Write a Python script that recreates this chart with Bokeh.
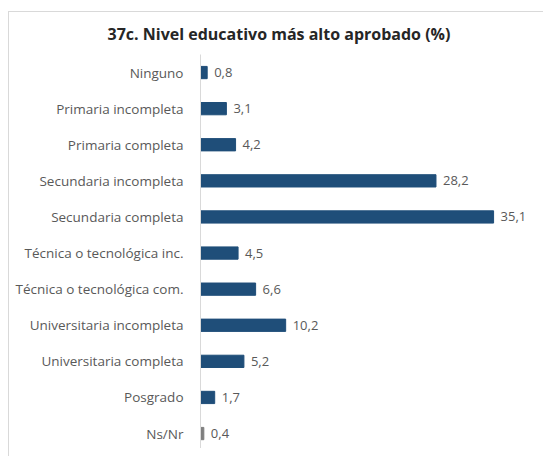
from bokeh.plotting import figure
from bokeh.models import ColumnDataSource, Range1d, FixedTicker
from bokeh.embed import file_html
from bokeh.resources import INLINE
from bokeh.core.properties import value

categories = ["Ninguno", "Primaria incompleta", "Primaria completa", "Secundaria incompleta",
              "Secundaria completa", "Técnica o tecnológica inc.", "Técnica o tecnológica com.",
              "Universitaria incompleta", "Universitaria completa", "Posgrado", "Ns/Nr"]
values = [0.8, 3.1, 4.2, 28.2, 35.1, 4.5, 6.6, 10.2, 5.2, 1.7, 0.4]
colors = ["#1f4e79"] * 10 + ["#7f7f7f"]
labels = [f"{v:.1f}".replace(".", ",") for v in values]
positions = list(range(len(categories)))

src = ColumnDataSource(dict(pos=positions, val=values, color=colors, label=labels))

FONT = "Open Sans"

frame_css = """
:host { position: relative; }
:host::before {
  content: "";
  position: absolute;
  left: 8px; top: 11px; right: -20px; bottom: -20px;
  border-left: 1px solid #d9d9d9;
  border-top: 1px solid #d9d9d9;
  pointer-events: none;
  z-index: 5;
}
"""

p = figure(width=535, height=448, output_backend="svg", toolbar_location=None,
           y_range=Range1d(10.414, -0.5), x_range=Range1d(0, 40),
           min_border_left=200, min_border_right=1, min_border_top=54, min_border_bottom=0,
           stylesheets=[frame_css])
p.title.text = "37c. Nivel educativo más alto aprobado (%)"
p.title.align = "left"
p.title.text_font = FONT
p.title.text_font_size = "16px"
p.title.text_font_style = "bold"
p.title.text_color = "#262626"
p.title.offset = -93
p.title.standoff = 20

p.hbar(y="pos", right="val", left=0, height=0.34, color="color", source=src)
p.text(x="val", y="pos", text="label", source=src, x_offset=7, text_baseline="middle",
       text_align="left", text_font=value(FONT), text_font_size="13px", text_color="#595959")

p.xaxis.visible = False
p.xgrid.visible = False
p.ygrid.visible = False
p.outline_line_color = None
p.yaxis.ticker = FixedTicker(ticks=positions)
p.yaxis.major_label_overrides = {i: c for i, c in zip(positions, categories)}
p.yaxis.axis_line_color = "#d9d9d9"
p.yaxis.major_tick_line_color = None
p.yaxis.minor_tick_line_color = None
p.yaxis.major_label_text_font = FONT
p.yaxis.major_label_text_font_size = "13.5px"
p.yaxis.major_label_text_color = "#595959"
p.yaxis.major_label_standoff = 11

open("out.html", "w").write(file_html(p, INLINE))
